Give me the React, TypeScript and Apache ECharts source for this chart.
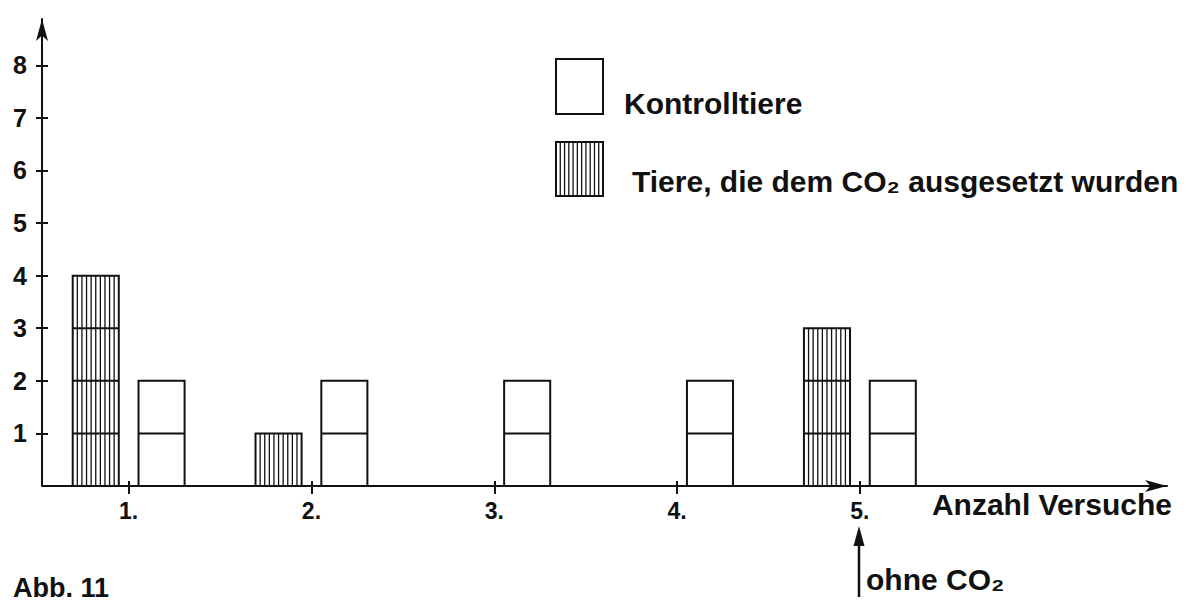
import React, { useEffect, useRef } from 'react';
import * as echarts from 'echarts';

// ---- data ----
const trialLabels = ['1.', '2.', '3.', '4.', '5.'];
const trialPositions = [1, 2, 3, 4, 5];
const co2Animals = [4, 1, 0, 0, 3]; // Tiere, die dem CO2 ausgesetzt wurden
const controlAnimals = [2, 2, 2, 2, 2]; // Kontrolltiere
const yTickValues = [1, 2, 3, 4, 5, 6, 7, 8];
const legendNames = ['Kontrolltiere', 'Tiere, die dem CO₂ ausgesetzt wurden'];
const xAxisName = 'Anzahl Versuche';
const noteText = 'ohne CO₂';
const figureLabel = 'Abb. 11';

// ---- layout / style ----
const FONT = "'Liberation Sans', Arial, Helvetica, sans-serif";
const INK = '#111';
const X_MIN = 0.526;
const X_MAX = 6.68;
const Y_MIN = 0;
const Y_MAX = 8.88;
const BAR_W = 0.252;
const OFFSET = 0.18;

function makeRenderItem(offset: number, hatched: boolean) {
  return (_params: any, api: any) => {
    const x = api.value(0);
    const v = api.value(1);
    if (!v) return { type: 'group', children: [] };
    const pL = api.coord([x + offset - BAR_W / 2, 0]);
    const pR = api.coord([x + offset + BAR_W / 2, v]);
    const left = pL[0];
    const right = pR[0];
    const bottom = pL[1];
    const top = pR[1];
    const children: any[] = [];
    children.push({
      type: 'rect',
      shape: { x: left, y: top, width: right - left, height: bottom - top },
      style: { fill: '#fff', stroke: 'none' },
    });
    if (hatched) {
      const n = Math.round((right - left) / 4.6);
      const step = (right - left) / n;
      for (let i = 1; i < n; i++) {
        children.push({
          type: 'line',
          shape: { x1: left + i * step, y1: top, x2: left + i * step, y2: bottom },
          style: { stroke: INK, lineWidth: 1.3 },
        });
      }
    }
    for (let k = 1; k < v; k++) {
      const y = api.coord([x, k])[1];
      children.push({
        type: 'line',
        shape: { x1: left, y1: y, x2: right, y2: y },
        style: { stroke: INK, lineWidth: 2 },
      });
    }
    children.push({
      type: 'rect',
      shape: { x: left, y: top, width: right - left, height: bottom - top },
      style: { fill: 'none', stroke: INK, lineWidth: 2 },
    });
    return { type: 'group', children };
  };
}

function legendHatch(x0: number, y0: number, w: number, h: number) {
  const els: any[] = [];
  els.push({ type: 'rect', shape: { x: x0, y: y0, width: w, height: h }, style: { fill: '#fff', stroke: INK, lineWidth: 2 } });
  const n = Math.round(w / 4.4);
  const step = w / n;
  for (let i = 1; i < n; i++) {
    els.push({ type: 'line', shape: { x1: x0 + i * step, y1: y0, x2: x0 + i * step, y2: y0 + h }, style: { stroke: INK, lineWidth: 1.3 } });
  }
  return els;
}

export default function App() {
  const ref = useRef<HTMLDivElement>(null);
  useEffect(() => {
    if (!ref.current) return;
    const chart = echarts.init(ref.current, undefined, { renderer: 'svg' });
    const option: any = {
      animation: false,
      backgroundColor: '#fff',
      grid: { left: 42, right: 19, top: 19, bottom: 117, containLabel: false },
      xAxis: [
        {
          type: 'value', min: X_MIN, max: X_MAX, position: 'bottom',
          axisLine: { show: true, onZero: false, symbol: ['none', 'arrow'], symbolSize: [9, 22], lineStyle: { color: INK, width: 2 } },
          axisTick: { show: true, customValues: trialPositions, length: 8, lineStyle: { color: INK, width: 2 } },
          axisLabel: {
            margin: 12, customValues: trialPositions,
            formatter: (v: number) => `{t|${trialLabels[trialPositions.indexOf(Math.round(v))] ?? ''}}`,
            rich: { t: { fontSize: 23, lineHeight: 26, fontWeight: 'bold', color: INK, fontFamily: FONT } },
          },
          splitLine: { show: false },
        },
        {
          type: 'value', min: X_MIN, max: X_MAX, position: 'bottom',
          axisLine: { show: false, onZero: false },
          axisTick: { show: true, inside: true, customValues: trialPositions, length: 5, lineStyle: { color: INK, width: 2 } },
          axisLabel: { show: false },
          splitLine: { show: false },
        },
      ],
      yAxis: [
        {
          type: 'value', min: Y_MIN, max: Y_MAX, position: 'left',
          axisLine: { show: true, onZero: false, symbol: ['none', 'arrow'], symbolSize: [9, 22], lineStyle: { color: INK, width: 2 } },
          axisTick: { show: true, customValues: yTickValues, length: 6, lineStyle: { color: INK, width: 2 } },
          axisLabel: {
            margin: 15, customValues: yTickValues,
            formatter: (v: number) => `{t|${v}}`,
            rich: { t: { fontSize: 25, lineHeight: 28, fontWeight: 'bold', color: INK, fontFamily: FONT } },
          },
          splitLine: { show: false },
        },
        {
          type: 'value', min: Y_MIN, max: Y_MAX, position: 'left',
          axisLine: { show: false, onZero: false },
          axisTick: { show: true, inside: true, customValues: yTickValues, length: 6, lineStyle: { color: INK, width: 2 } },
          axisLabel: { show: false },
          splitLine: { show: false },
        },
      ],
      series: [
        {
          type: 'custom', name: legendNames[1], xAxisIndex: 0, yAxisIndex: 0, clip: false,
          renderItem: makeRenderItem(-OFFSET, true),
          encode: { x: 0, y: 1 },
          data: trialPositions.map((p, i) => [p, co2Animals[i]]),
        },
        {
          type: 'custom', name: legendNames[0], xAxisIndex: 0, yAxisIndex: 0, clip: false,
          renderItem: makeRenderItem(OFFSET, false),
          encode: { x: 0, y: 1 },
          data: trialPositions.map((p, i) => [p, controlAnimals[i]]),
        },
      ],
      graphic: [
        { type: 'rect', shape: { x: 556, y: 59, width: 47, height: 55 }, style: { fill: '#fff', stroke: INK, lineWidth: 2 } },
        ...legendHatch(556, 142, 47, 54),
        { type: 'text', x: 624, y: 103, style: { text: legendNames[0], font: `bold 30px ${FONT}`, fill: INK, verticalAlign: 'middle', align: 'left' } },
        { type: 'text', x: 632, y: 181, style: { text: legendNames[1], font: `bold 30px ${FONT}`, fill: INK, verticalAlign: 'middle', align: 'left' } },
        { type: 'text', x: 1172, y: 504, style: { text: xAxisName, font: `bold 30px ${FONT}`, fill: INK, verticalAlign: 'middle', align: 'right' } },
        { type: 'line', shape: { x1: 859, y1: 597, x2: 859, y2: 540 }, style: { stroke: INK, lineWidth: 2.5 } },
        { type: 'polygon', shape: { points: [[859, 526], [853.5, 546], [864.5, 546]] }, style: { fill: INK } },
        { type: 'text', x: 866, y: 579, style: { text: noteText, font: `bold 30px ${FONT}`, fill: INK, verticalAlign: 'middle', align: 'left' } },
        { type: 'text', x: 13, y: 588, style: { text: figureLabel, font: `bold 27px ${FONT}`, fill: INK, verticalAlign: 'middle', align: 'left' } },
      ],
    };
    chart.setOption(option);
    return () => chart.dispose();
  }, []);
  return (
    <div
      ref={ref}
      style={{ position: 'absolute', left: 0, top: 0, width: 1186, height: 603, background: '#fff' }}
    />
  );
}
